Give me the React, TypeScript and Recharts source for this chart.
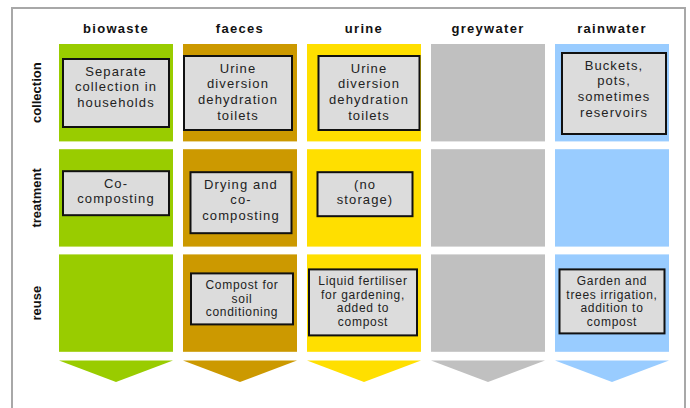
import { BarChart, Bar, XAxis, YAxis } from 'recharts';

const STREAMS = ['biowaste', 'faeces', 'urine', 'greywater', 'rainwater'];
const STAGES = ['collection', 'treatment', 'reuse'];
const STREAM_COLORS = ['#99cc00', '#cc9900', '#ffdf00', '#c0c0c0', '#99ccff'];

// text of the grey boxes, one entry per stream (null = empty tile)
const COLLECTION_TEXT = [
  ['Separate', 'collection in', 'households'],
  ['Urine', 'diversion', 'dehydration', 'toilets'],
  ['Urine', 'diversion', 'dehydration', 'toilets'],
  null,
  ['Buckets,', 'pots,', 'sometimes', 'reservoirs'],
];
const TREATMENT_TEXT = [
  ['Co-', 'composting'],
  ['Drying and', 'co-', 'composting'],
  ['(no', 'storage)'],
  null,
  null,
];
const REUSE_TEXT = [
  null,
  ['Compost for', 'soil', 'conditioning'],
  ['Liquid fertiliser', 'for gardening,', 'added to', 'compost'],
  null,
  ['Garden and', 'trees irrigation,', 'addition to', 'compost'],
];

// stacked heights, bottom to top: arrow, gap, reuse, gap, treatment, gap, collection
const ARROW = 0.22;
const LOW_GAP = 0.09;
const TILE = 1;
const GAP = 0.08;

const data = STREAMS.map((stream) => ({
  stream,
  arrow: ARROW,
  gap0: LOW_GAP,
  reuse: TILE,
  gap1: GAP,
  treatment: TILE,
  gap2: GAP,
  collection: TILE,
}));

const TOTAL = ARROW + LOW_GAP + 3 * TILE + 2 * GAP;
const ROW_CENTERS: Record<string, number> = {
  reuse: ARROW + LOW_GAP + TILE / 2,
  treatment: ARROW + LOW_GAP + TILE + GAP + TILE / 2,
  collection: ARROW + LOW_GAP + 2 * TILE + 2 * GAP + TILE / 2,
};
const centerToStage = (v: number) => STAGES.find((s) => Math.abs(ROW_CENTERS[s] - v) < 1e-6) || '';

// layout of the grey boxes inside their tile (px)
type Box = { dx: number; top: number; w: number; h: number } | null;
const BOX_LAYOUT: Record<string, Box[]> = {
  collection: [
    { dx: 0, top: 15, w: 106, h: 68 },
    { dx: -2, top: 12, w: 108, h: 74 },
    { dx: 5, top: 12, w: 101, h: 74 },
    null,
    { dx: 2, top: 9, w: 104, h: 81 },
  ],
  treatment: [
    { dx: 0, top: 22, w: 106, h: 44 },
    { dx: 1, top: 23, w: 101, h: 61 },
    { dx: 1, top: 23, w: 95, h: 44 },
    null,
    null,
  ],
  reuse: [
    null,
    { dx: 2, top: 19, w: 102, h: 51 },
    { dx: -1, top: 15, w: 108, h: 66 },
    null,
    { dx: 0, top: 15, w: 105, h: 64 },
  ],
};

const FONT = '"Liberation Sans", Arial, sans-serif';

function makeTile(stage: string, texts: (string[] | null)[]) {
  const small = stage === 'reuse';
  const lineH = small ? 13.5 : 15.7;
  return (props: any) => {
    const { x, y, width, height, payload } = props;
    const i = STREAMS.indexOf(payload?.stream);
    const lines = texts[i];
    const box = BOX_LAYOUT[stage][i];
    const cx = x + width / 2;
    return (
      <g>
        <rect x={x} y={y} width={width} height={height} fill={STREAM_COLORS[i]} />
        {lines && box && (
          <g>
            <rect
              x={cx + box.dx - box.w / 2}
              y={y + box.top}
              width={box.w}
              height={box.h}
              fill="#dcdcdc"
              stroke="#111"
              strokeWidth={2}
            />
            {lines.map((ln, k) => (
              <text
                key={k}
                x={cx + box.dx}
                y={y + box.top + 12 + k * lineH}
                textAnchor="middle"
                dominantBaseline="central"
                fontFamily={FONT}
                fontSize={small ? 12 : 13}
                letterSpacing={small ? 0.7 : 1.1}
                fill="#222"
              >
                {ln}
              </text>
            ))}
          </g>
        )}
      </g>
    );
  };
}

const ArrowShape = (props: any) => {
  const { x, y, width, height, payload } = props;
  const i = STREAMS.indexOf(payload?.stream);
  const d = `M${x},${y} L${x + width},${y} L${x + width / 2},${y + height} Z`;
  return <path d={d} fill={STREAM_COLORS[i]} />;
};

const HeaderTick = ({ x, y, payload }: any) => (
  <text
    x={x}
    y={y - 3}
    textAnchor="middle"
    fontFamily={FONT}
    fontSize={13}
    fontWeight="bold"
    letterSpacing={1.3}
    fill="#111"
  >
    {payload.value}
  </text>
);

const StageTick = ({ x, y, payload }: any) => (
  <text
    x={x - 9}
    y={y}
    transform={`rotate(-90, ${x - 9}, ${y})`}
    textAnchor="middle"
    dominantBaseline="central"
    fontFamily={FONT}
    fontSize={13}
    fontWeight="bold"
    fill="#111"
  >
    {centerToStage(payload.value)}
  </text>
);

export default function App() {
  return (
    <div style={{ position: 'absolute', left: 0, top: 0, width: 690, height: 408, background: '#fff', overflow: 'hidden' }}>
      <div
        style={{
          position: 'absolute',
          left: 11,
          top: 7,
          width: 671,
          height: 420,
          border: '2px solid #a8a8a8',
        }}
      />
      <div style={{ position: 'absolute', left: 0, top: 0 }}>
        <BarChart width={690} height={408} data={data} margin={{ top: 0, right: 16, bottom: 26, left: 0 }}>
          <XAxis
            dataKey="stream"
            orientation="top"
            height={44}
            axisLine={false}
            tickLine={false}
            tick={<HeaderTick />}
            interval={0}
          />
          <YAxis
            type="number"
            domain={[0, TOTAL]}
            ticks={[ROW_CENTERS.reuse, ROW_CENTERS.treatment, ROW_CENTERS.collection]}
            width={54}
            axisLine={false}
            tickLine={false}
            tick={<StageTick />}
            allowDataOverflow
          />
          <Bar dataKey="arrow" stackId="s" barSize={114} shape={ArrowShape} isAnimationActive={false} />
          <Bar dataKey="gap0" stackId="s" barSize={114} fill="transparent" isAnimationActive={false} />
          <Bar dataKey="reuse" stackId="s" barSize={114} shape={makeTile('reuse', REUSE_TEXT)} isAnimationActive={false} />
          <Bar dataKey="gap1" stackId="s" barSize={114} fill="transparent" isAnimationActive={false} />
          <Bar dataKey="treatment" stackId="s" barSize={114} shape={makeTile('treatment', TREATMENT_TEXT)} isAnimationActive={false} />
          <Bar dataKey="gap2" stackId="s" barSize={114} fill="transparent" isAnimationActive={false} />
          <Bar dataKey="collection" stackId="s" barSize={114} shape={makeTile('collection', COLLECTION_TEXT)} isAnimationActive={false} />
        </BarChart>
      </div>
    </div>
  );
}
